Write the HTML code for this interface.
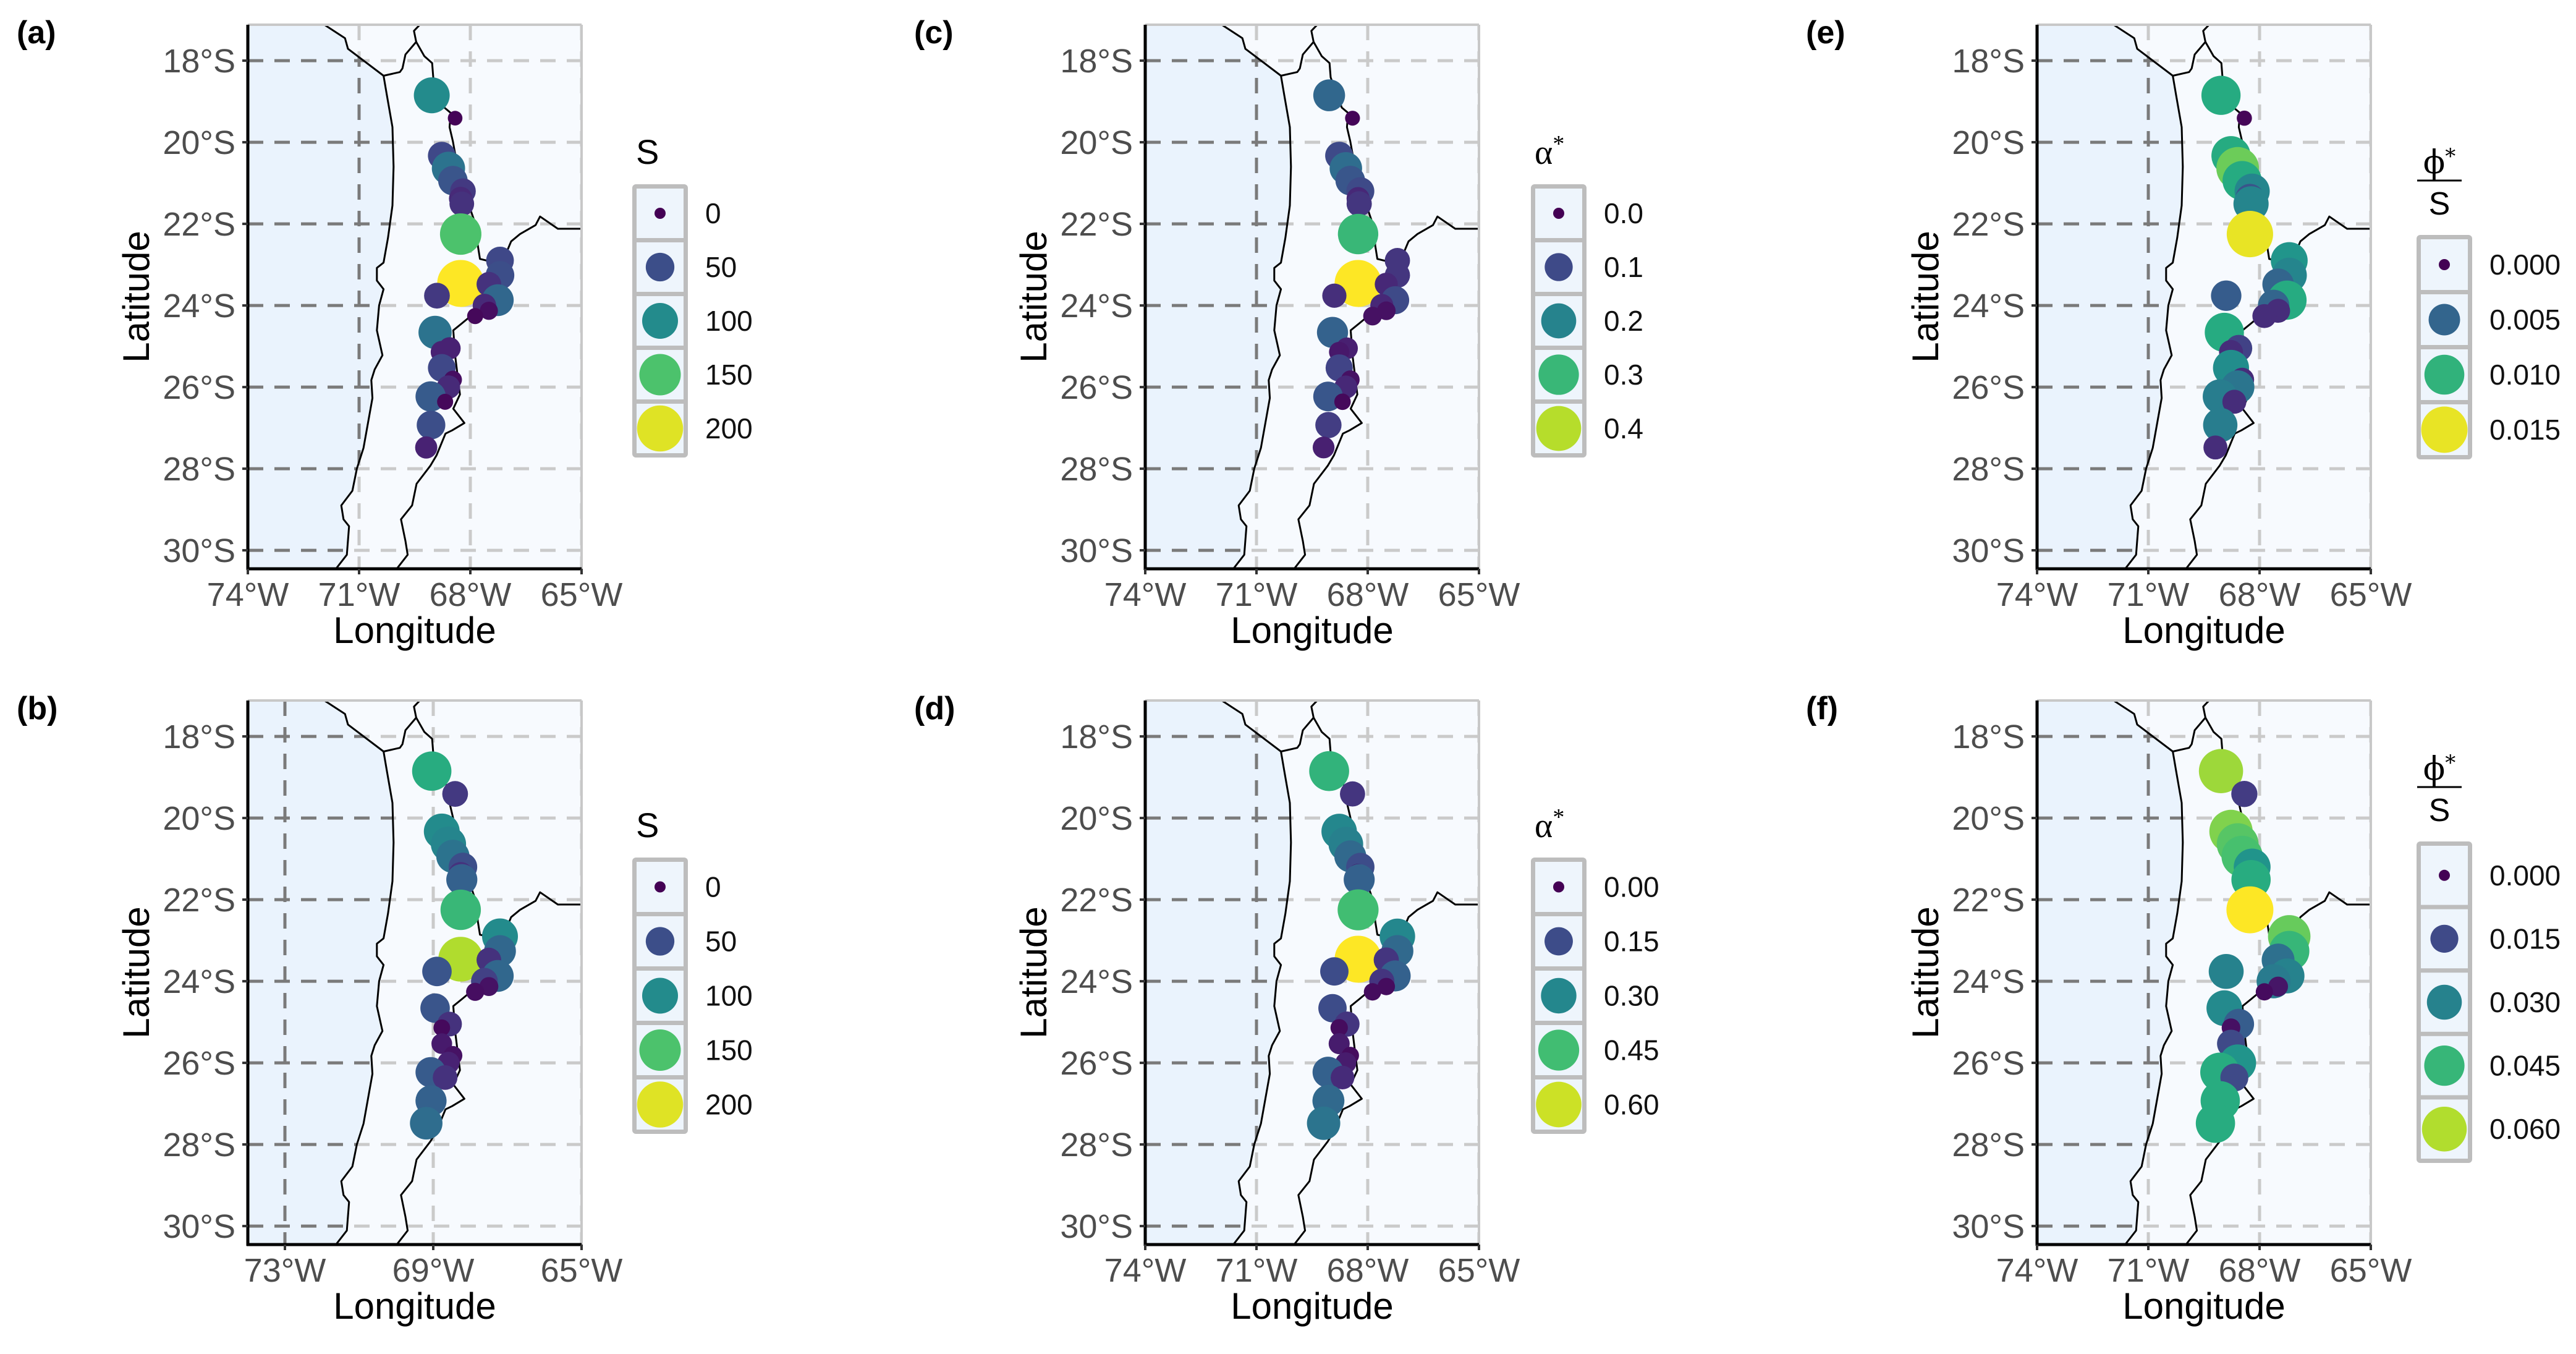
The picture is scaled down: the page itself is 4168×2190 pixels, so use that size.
<!DOCTYPE html>
<html><head><meta charset="utf-8"><style>
html,body{margin:0;padding:0;background:#fff;}
svg{display:block;font-family:"Liberation Sans",Arial,sans-serif;}
</style></head><body>
<svg id="fig" width="4168" height="2190" viewBox="0 0 4168 2190" xmlns="http://www.w3.org/2000/svg"></svg>
<script>
// ---- data ----
const siteLon=[69.04,68.41,68.77,68.59,68.47,68.2,68.26,68.23,68.26,68.26,67.2,67.2,67.5,67.26,67.62,67.5,67.87,68.9,68.95,68.56,68.77,68.77,68.47,68.59,69.07,68.68,69.06,69.19];
const siteLat=[18.85,19.41,20.33,20.64,20.94,21.2,21.38,21.51,22.25,23.46,22.9,23.26,23.48,23.87,24.0,24.13,24.26,23.76,24.66,25.05,25.14,25.53,25.82,26.0,26.23,26.36,26.93,27.48];
const valuesA=[100,2,45,80,55,35,25,30,150,210,45,50,30,70,25,8,4,35,80,20,20,45,8,25,60,4,50,20];
const valuesB=[130,35,100,95,80,50,30,65,140,185,100,70,30,70,40,10,8,55,55,30,5,15,10,20,60,30,65,75];
const valuesC=[0.15,0.005,0.1,0.16,0.12,0.1,0.05,0.07,0.3,0.45,0.07,0.07,0.05,0.1,0.05,0.02,0.02,0.06,0.14,0.04,0.03,0.09,0.02,0.05,0.12,0.01,0.08,0.04];
const valuesD=[0.42,0.1,0.3,0.28,0.22,0.15,0.05,0.2,0.45,0.65,0.3,0.22,0.1,0.2,0.1,0.02,0.02,0.15,0.15,0.1,0.02,0.05,0.02,0.05,0.2,0.08,0.22,0.25];
const valuesE=[0.0095,0.0002,0.0095,0.012,0.0095,0.007,0.004,0.007,0.015,null,0.008,0.007,0.005,0.0095,0.005,0.002,0.002,0.0045,0.0095,0.003,0.002,0.0075,0.002,0.006,0.0065,0.002,0.0065,0.002];
const valuesF=[0.058,0.012,0.055,0.05,0.048,0.035,0.015,0.042,0.068,null,0.052,0.045,0.025,0.03,0.028,0.004,0.002,0.03,0.032,0.02,0.003,0.015,0.004,0.035,0.042,0.015,0.042,0.042];
const breaksS=[0,50,100,150,200];
const breaksAlphaTop=[0,0.1,0.2,0.3,0.4];
const breaksAlphaBot=[0,0.15,0.3,0.45,0.6];
const breaksPhiTop=[0,0.005,0.010,0.015];
const breaksPhiBot=[0,0.015,0.030,0.045,0.060];
const latTicks=[18,20,22,24,26,28,30];
const lonTicksA=[74,71,68,65];
const lonTicksB=[73,69,65];
// map geometry (lon W, lat S)
const coast=[[72.2,16.9],[71.97,17.1],[71.38,17.45],[71.3,17.71],[70.34,18.37],[70.25,18.85],[70.1,19.63],[70.07,20.6],[70.1,21.55],[70.22,22.34],[70.34,22.95],[70.52,23.08],[70.52,23.39],[70.34,23.6],[70.46,24.0],[70.52,24.61],[70.37,25.22],[70.58,25.57],[70.67,25.83],[70.64,26.27],[70.76,26.88],[70.88,27.49],[71.06,28.0],[71.18,28.54],[71.48,28.9],[71.42,29.24],[71.27,29.41],[71.33,30.11],[71.63,30.46],[71.7,30.7]];
const borderPeru=[[70.34,18.37],[69.9,18.28],[69.83,18.19],[69.75,17.85],[69.46,17.54],[69.52,17.27],[69.34,17.1],[69.3,16.9]];
const borderN=[[69.46,17.54],[69.24,17.89],[69.03,18.06],[69.0,18.41],[68.7,19.15],[68.53,19.28],[68.56,19.63],[68.47,19.98],[68.23,21.19],[68.0,21.64],[67.8,22.17],[67.8,22.52],[67.74,22.86],[67.51,22.91],[67.02,22.69],[66.9,22.43],[66.66,22.25],[66.24,22.03],[66.12,21.82],[65.64,22.12],[64.8,22.12]];
const borderS=[[67.02,22.69],[67.39,23.74],[67.99,24.26],[68.23,24.44],[68.46,24.61],[68.4,25.3],[68.28,26.18],[68.46,26.53],[68.16,26.88],[68.49,27.06],[68.67,27.14],[68.91,27.67],[69.08,27.93],[69.45,28.37],[69.57,28.9],[69.87,29.24],[69.75,29.77],[69.69,30.11],[69.99,30.46],[70.05,30.7]];

const NS='http://www.w3.org/2000/svg';
const svg=document.getElementById('fig');
function el(tag,attrs,parent){const e=document.createElementNS(NS,tag);for(const k in attrs)e.setAttribute(k,attrs[k]);(parent||svg).appendChild(e);return e;}
const VIR=['#440154','#482475','#414487','#355f8d','#2a788e','#21918c','#22a884','#44bf70','#7ad151','#bddf26','#fde725'];
function hx(c){return [parseInt(c.slice(1,3),16),parseInt(c.slice(3,5),16),parseInt(c.slice(5,7),16)];}
function viridis(t){t=Math.max(0,Math.min(1,t));const f=t*10,i=Math.min(9,Math.floor(f)),r=f-i;const a=hx(VIR[i]),b=hx(VIR[i+1]);return 'rgb('+a.map((v,k)=>Math.round(v+(b[k]-v)*r)).join(',')+')';}
function diam(v,vmax){return 18+58*Math.sqrt(Math.max(0,v)/vmax);}

const panels=[
 {id:'a',label:'(a)',x0:401,y0:40,vals:valuesA,vmax:210,breaks:breaksS,fmt:v=>String(v),title:'S',lonTicks:lonTicksA,lgX:1023,lgY:298,keyH:87},
 {id:'b',label:'(b)',x0:401,y0:1133,vals:valuesB,vmax:210,breaks:breaksS,fmt:v=>String(v),title:'S',lonTicks:lonTicksB,lgX:1023,lgY:1387,keyH:88},
 {id:'c',label:'(c)',x0:1853,y0:40,vals:valuesC,vmax:0.45,breaks:breaksAlphaTop,fmt:v=>v.toFixed(1),title:'alpha',lonTicks:lonTicksA,lgX:2477,lgY:298,keyH:87},
 {id:'d',label:'(d)',x0:1853,y0:1133,vals:valuesD,vmax:0.65,breaks:breaksAlphaBot,fmt:v=>v.toFixed(2),title:'alpha',lonTicks:lonTicksA,lgX:2477,lgY:1387,keyH:88},
 {id:'e',label:'(e)',x0:3296,y0:40,vals:valuesE,vmax:0.0155,breaks:breaksPhiTop,fmt:v=>v.toFixed(3),title:'phi',lonTicks:lonTicksA,lgX:3910,lgY:380,keyH:89},
 {id:'f',label:'(f)',x0:3296,y0:1133,vals:valuesF,vmax:0.068,breaks:breaksPhiBot,fmt:v=>v.toFixed(3),title:'phi',lonTicks:lonTicksA,lgX:3910,lgY:1361,keyH:102.6}
];
const W=540,H=880,LON0=74,LAT0=17.12,PXLON=60,PXLAT=66;

panels.forEach(p=>{
 const g=el('g',{});
 
 
 const sx=lon=>p.x0+(LON0-lon)*PXLON;
 const sy=lat=>p.y0+(lat-LAT0)*PXLAT;
 const clipId='clip-'+p.id;
 const cp=el('clipPath',{id:clipId},g);el('rect',{x:p.x0,y:p.y0,width:W,height:H},cp);
 const bg=el('rect',{x:p.x0,y:p.y0,width:W,height:H,fill:'#eaf3fd'},g);
 
 
 const inner=el('g',{'clip-path':'url(#'+clipId+')'},g);
 latTicks.forEach(t=>{const gl=el('line',{x1:p.x0,x2:p.x0+W,y1:sy(t),y2:sy(t),stroke:'#7a7a7a','stroke-width':5,'stroke-dasharray':'25 18'},inner);
  
  });
 p.lonTicks.forEach(t=>{const gl=el('line',{x1:sx(t),x2:sx(t),y1:p.y0,y2:p.y0+H,stroke:'#7a7a7a','stroke-width':5,'stroke-dasharray':'25 18'},inner);
  
  });
 let d='M'+coast.map(c=>sx(c[0])+','+sy(c[1])).join(' L');
 d+=' L'+sx(63)+','+sy(31)+' L'+sx(63)+','+sy(16)+' L'+sx(72.3)+','+sy(16)+' Z';
 const land=el('path',{d:d,fill:'#ffffff','fill-opacity':0.6,stroke:'none'},inner);
 
 
 [coast,borderPeru,borderN,borderS].forEach((ln,i)=>{
  const pl=el('polyline',{points:ln.map(c=>sx(c[0])+','+sy(c[1])).join(' '),fill:'none',stroke:'#000','stroke-width':3,'stroke-linejoin':'round'},inner);
  
  
 });
 siteLon.forEach((lon,i)=>{
  const v=p.vals[i];if(v===null)return;const r=diam(v,p.vmax)/2;
  const c=el('ellipse',{cx:sx(lon),cy:sy(siteLat[i]),rx:r,ry:r,fill:viridis(v/p.vmax)},inner);
  
  
 });
 el('line',{x1:p.x0,x2:p.x0+W,y1:p.y0,y2:p.y0,stroke:'#c8c8c8','stroke-width':4},g);
 el('line',{x1:p.x0+W,x2:p.x0+W,y1:p.y0,y2:p.y0+H,stroke:'#c8c8c8','stroke-width':4},g);
 const ay=el('line',{x1:p.x0,x2:p.x0,y1:p.y0,y2:p.y0+H+2,stroke:'#000','stroke-width':5},g);
 
 
 const ax=el('line',{x1:p.x0-2,x2:p.x0+W,y1:p.y0+H,y2:p.y0+H,stroke:'#000','stroke-width':5},g);
 
 
 latTicks.forEach(t=>{
  el('line',{x1:p.x0-9,x2:p.x0,y1:sy(t),y2:sy(t),stroke:'#333','stroke-width':4},g);
  const tx=el('text',{x:p.x0-20,y:sy(t)+19,'text-anchor':'end','font-size':54,fill:'#4d4d4d'},g);
  tx.textContent=t+'°S';
  
  
 });
 p.lonTicks.forEach(t=>{
  el('line',{x1:sx(t),x2:sx(t),y1:p.y0+H,y2:p.y0+H+9,stroke:'#333','stroke-width':4},g);
  const tx=el('text',{x:sx(t),y:p.y0+H+60,'text-anchor':'middle','font-size':54,fill:'#4d4d4d'},g);
  tx.textContent=t+'°W';
  
  
 });
 const xt=el('text',{x:p.x0+W/2,y:p.y0+H+120,'text-anchor':'middle','font-size':60,fill:'#000'},g);
 xt.textContent='Longitude';
 
 
 const ytx=p.x0-160,yty=p.y0+H/2;
 const yt=el('text',{x:ytx,y:yty,'text-anchor':'middle','font-size':60,fill:'#000',transform:'rotate(-90 '+ytx+' '+yty+')'},g);
 yt.textContent='Latitude';
 
 
 const pl=el('text',{x:p.x0-374,y:p.y0+30,'font-size':52,'font-weight':'bold',fill:'#000'},g);
 pl.textContent=p.label;
 
 
 const lg=el('g',{},g);
 
 
 const n=p.breaks.length,lw=90,pad=7;
 el('rect',{x:p.lgX,y:p.lgY,width:lw,height:n*p.keyH+pad,fill:'#bdbdbd',rx:6},lg);
 p.breaks.forEach((b,i)=>{
  const ky=p.lgY+pad+i*p.keyH;
  el('rect',{x:p.lgX+pad,y:ky,width:lw-2*pad,height:p.keyH-pad,fill:'#eef5fc'},lg);
  const r=diam(b,p.vmax)/2;
  const kc=el('ellipse',{cx:p.lgX+lw/2,cy:ky+(p.keyH-pad)/2,rx:r,ry:r,fill:viridis(b/p.vmax)},lg);
  
  
  const lt=el('text',{x:p.lgX+lw+28,y:ky+(p.keyH-pad)/2+16,'font-size':46,fill:'#111'},lg);
  lt.textContent=p.fmt(b);
  
  
 });
 const tcx=p.lgX+lw/2-8;
 if(p.title==='S'){
  const t=el('text',{x:p.lgX+6,y:p.lgY-33,'font-size':56,fill:'#000'},lg);t.textContent='S';
  
  
 } else if(p.title==='alpha'){
  const t=el('text',{x:p.lgX+6,y:p.lgY-33,'font-size':56,fill:'#000','font-family':'"Liberation Serif",serif'},lg);
  t.textContent='α';
  const s=el('tspan',{dy:-20,'font-size':38},t);s.textContent='*';
  
  
 } else {
  const t=el('text',{x:tcx,y:p.lgY-100,'text-anchor':'middle','font-size':52,fill:'#000','font-family':'"DejaVu Serif","Liberation Serif",serif'},lg);
  t.textContent='ϕ';
  const s=el('tspan',{dy:-16,'font-size':34},t);s.textContent='*';
  
  
  el('line',{x1:tcx-36,x2:tcx+36,y1:p.lgY-88,y2:p.lgY-88,stroke:'#000','stroke-width':3},lg);
  const t2=el('text',{x:tcx,y:p.lgY-33,'text-anchor':'middle','font-size':52,fill:'#000'},lg);
  t2.textContent='S';
  
  
 }
});
</script>
</body></html>
